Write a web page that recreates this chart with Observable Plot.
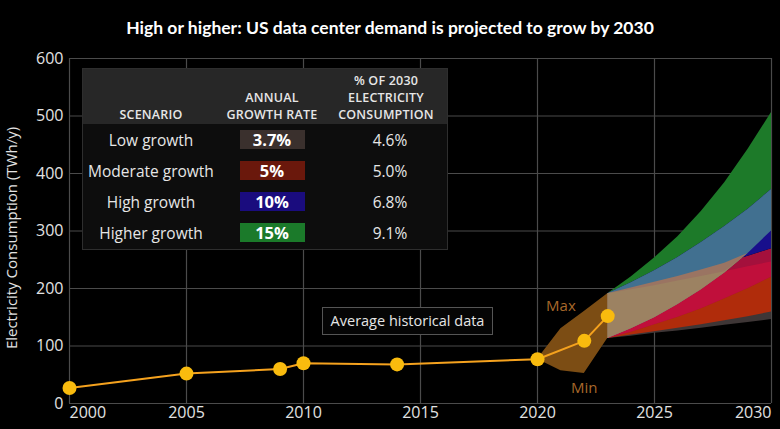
<!DOCTYPE html>
<html>
<head>
<meta charset="utf-8">
<script src="https://cdn.jsdelivr.net/npm/d3@7"></script>
<script src="https://cdn.jsdelivr.net/npm/@observablehq/plot@0.6"></script>
<style>
  html, body { margin: 0; padding: 0; background: #000; }
  #wrap { position: relative; width: 780px; height: 429px; background: #000; overflow: hidden; font-family: "Open Sans", sans-serif; }
  #title { height: 45px; box-sizing: border-box; padding-top: 18px; text-align: center; color: #fff;
           font-family: Lato, "Open Sans", sans-serif; font-weight: 700; font-size: 17.5px; line-height: 20px; }
  #chart svg { display: block; }
  #table { position: absolute; left: 82px; top: 68px; width: 366px; height: 182px; background: #0d0d0d;
           border: 1px solid #2e2e2e; box-sizing: border-box; color: #e6e6e6; }
  #table .hdr { display: grid; grid-template-columns: 136px 106px 122px; height: 55px; background: #272727; }
  #table .hdr div { display: flex; align-items: flex-end; justify-content: center; text-align: center;
                    font-size: 12.5px; font-weight: 600; line-height: 17px; padding-bottom: 1px; letter-spacing: 0.2px; }
  #table .row { display: grid; grid-template-columns: 136px 106px 122px; height: 31px; align-items: center; }
  #table .row div { text-align: center; font-size: 15.5px; }
  #table .row .sw { justify-self: center; width: 65px; height: 19px; line-height: 19px; font-weight: 700; font-size: 16.5px; color: #fff; }
  #table .row .pc { padding-left: 8px; }
  #hist { position: absolute; left: 322px; top: 307px; width: 171px; height: 28px; box-sizing: border-box;
          border: 1px solid #555; background: #050505; color: #e6e6e6; font-size: 14.5px; line-height: 26px; text-align: center; }
</style>
</head>
<body>
<div id="wrap">
  <div id="title"></div>
  <div id="chart"></div>
  <div id="table"></div>
  <div id="hist"></div>
</div>
<script>
// ---------- data ----------
const titleText = "High or higher: US data center demand is projected to grow by 2030";
const yLabel = "Electricity Consumption (TWh/y)";
const histLabel = "Average historical data";

// historical average consumption
const histYears = [2000, 2005, 2009, 2010, 2014, 2020, 2022, 2023];
const histValues = [27, 52, 60, 70, 68, 77, 109, 152];

// min / max envelope of recent estimates
const envYears = [2020, 2021, 2022, 2023];
const envMin = [77, 57, 52, 113];
const envMax = [77, 130, 160, 191];

// scenario projections 2023-2030 (upper and lower edge of each band)
const projYears = [2023, 2024, 2025, 2026, 2027, 2028, 2029, 2030];
const higherMax = [191, 220, 253, 290, 334, 384, 442, 506];
const higherMin = [113, 130, 149, 172, 198, 227, 261, 300];
const highMax   = [191, 210, 231, 254, 280, 308, 338, 372];
const highMin   = [113, 124, 137, 150, 165, 182, 200, 220];
const modMax    = [191, 201, 211, 221, 232, 244, 256, 269];
const modMin    = [113, 119, 125, 131, 137, 144, 151, 159];
const lowMax    = [191, 198, 205, 213, 221, 229, 238, 246];
const lowMin    = [113, 117, 122, 126, 131, 136, 141, 146];

// table
const scenarios = ["Low growth", "Moderate growth", "High growth", "Higher growth"];
const growthRates = ["3.7%", "5%", "10%", "15%"];
const shares2030 = ["4.6%", "5.0%", "6.8%", "9.1%"];
const swatchColors = ["#3a302d", "#6a180c", "#1a0c7e", "#1b7a2a"];
const tableHeaders = ["SCENARIO", "ANNUAL<br>GROWTH RATE", "% OF 2030<br>ELECTRICITY<br>CONSUMPTION"];

const xTicks = [2000, 2005, 2010, 2015, 2020, 2025, 2030];
const yTicks = [0, 100, 200, 300, 400, 500, 600];

// ---------- colours ----------
const C = {
  grid: "#4b4b4b", tick: "#e2e2e2", line: "#f5a21e", dot: "#f9bb0e", env: "#7c4d14", envText: "#a8682a",
  green: "#1d7a29", steel: "#417090", navy: "#180f8c", crimson: "#a4103c", crimson2: "#c00f3b",
  orange: "#b02c0b", grey: "#3e3636", tan: "#9c8262", gbr: "#9a7462"
};

// ---------- build overlap regions of the scenario bands ----------
const P = projYears.map((y, i) => ({
  year: y, gMax: higherMax[i], gMin: higherMin[i], bMax: highMax[i], bMin: highMin[i],
  rMax: modMax[i], rMin: modMin[i], lMax: lowMax[i], lMin: lowMin[i]
}));
const layers = [
  {fill: C.grey,     lo: d => d.lMin, hi: d => d.lMax},
  {fill: C.orange,   lo: d => d.rMin, hi: d => d.lMax},
  {fill: C.crimson,  lo: d => d.bMin, hi: d => d.rMax},
  {fill: C.crimson2, lo: d => d.bMin, hi: d => Math.max(d.bMin, d.lMax)},
  {fill: C.navy,     lo: d => d.rMax, hi: d => d.bMax},
  {fill: C.green,    lo: d => d.bMax, hi: d => d.gMax},
  {fill: C.steel,    lo: d => d.gMin, hi: d => d.bMax},
  {fill: C.gbr,      lo: d => d.gMin, hi: d => Math.max(d.gMin, d.rMax)},
  {fill: C.tan,      lo: d => d.gMin, hi: d => Math.max(d.gMin, d.lMax)}
];

const hist = histYears.map((y, i) => ({year: y, v: histValues[i]}));
const env = envYears.map((y, i) => ({year: y, lo: envMin[i], hi: envMax[i]}));

// ---------- page text ----------
document.getElementById("title").textContent = titleText;
document.getElementById("hist").textContent = histLabel;
const tbl = document.getElementById("table");
tbl.innerHTML =
  `<div class="hdr">${tableHeaders.map(h => `<div>${h}</div>`).join("")}</div>` +
  scenarios.map((s, i) => `<div class="row"><div>${s}</div><div class="sw" style="background:${swatchColors[i]}">${growthRates[i]}</div><div class="pc">${shares2030[i]}</div></div>`).join("");

// ---------- plot ----------
const font = "Open Sans, sans-serif";
const chart = Plot.plot({
  width: 780, height: 384,
  marginTop: 13, marginBottom: 26, marginLeft: 69, marginRight: 9,
  x: {domain: [2000, 2030], axis: null},
  y: {domain: [0, 600], axis: null},
  style: {background: "#000", fontFamily: font},
  marks: [
    Plot.ruleY(yTicks, {stroke: C.grid, strokeWidth: 1.2}),
    Plot.ruleX(xTicks, {stroke: C.grid, strokeWidth: 1.2}),
    ...layers.map(L => Plot.areaY(P, {x: "year", y1: L.lo, y2: L.hi, fill: L.fill})),
    Plot.areaY(env, {x: "year", y1: "lo", y2: "hi", fill: C.env}),
    Plot.line(hist, {x: "year", y: "v", stroke: C.line, strokeWidth: 2}),
    Plot.dot(hist, {x: "year", y: "v", r: 7, fill: C.dot}),
    Plot.text(["Max"], {x: 2021, y: 169, text: d => d, fill: C.envText, fontSize: 15}),
    Plot.text(["Min"], {x: 2022, y: 26, text: d => d, fill: C.envText, fontSize: 15}),
    Plot.text(yTicks, {frameAnchor: "left", y: d => d, text: d => String(d), textAnchor: "end", dx: -6, fill: C.tick, fontSize: 16}),
    Plot.text(xTicks.slice(0, 1), {frameAnchor: "bottom", x: d => d, text: d => String(d), textAnchor: "start", dy: 14, fill: C.tick, fontSize: 16}),
    Plot.text(xTicks.slice(1, -1), {frameAnchor: "bottom", x: d => d, text: d => String(d), dy: 14, fill: C.tick, fontSize: 16}),
    Plot.text(xTicks.slice(-1), {frameAnchor: "bottom", x: d => d, text: d => String(d), textAnchor: "end", dy: 14, fill: C.tick, fontSize: 16}),
    Plot.text([yLabel], {frameAnchor: "left", text: d => d, textAnchor: "middle", rotate: -90, dx: -57, dy: 7, fill: C.tick, fontSize: 15})
  ]
});
document.getElementById("chart").appendChild(chart);
</script>
</body>
</html>
